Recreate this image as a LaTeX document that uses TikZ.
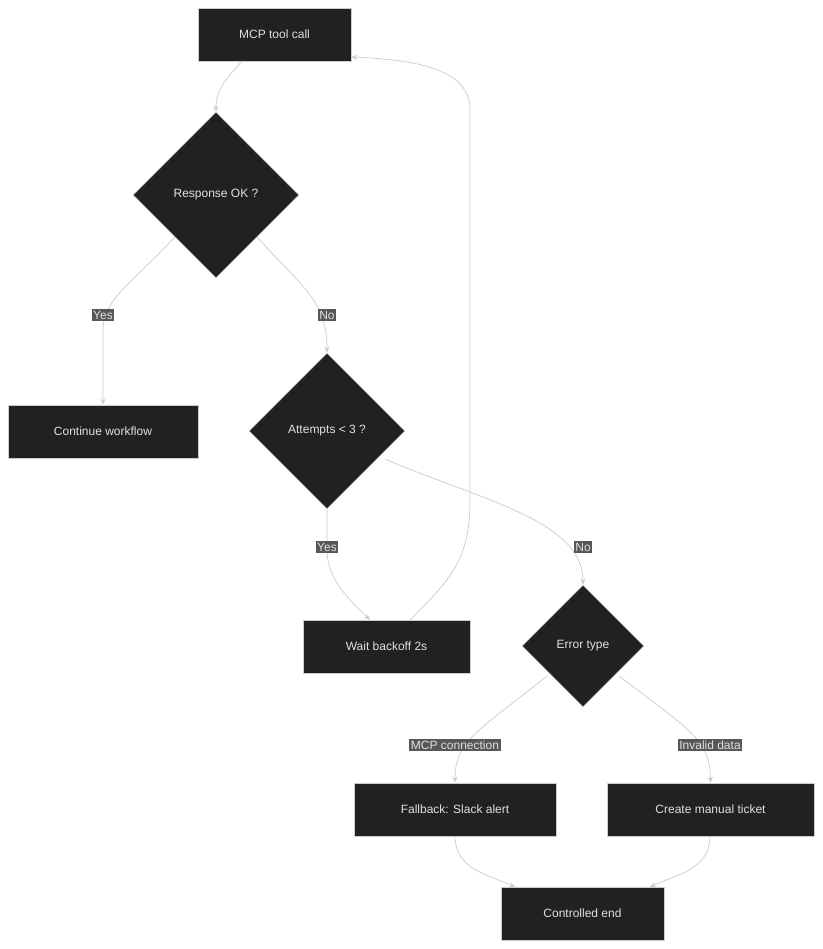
\documentclass[tikz,border=0pt]{standalone}
\usepackage{fontspec}
\setmainfont{Liberation Sans}
\usetikzlibrary{shapes.geometric,arrows.meta}
\definecolor{nodefill}{HTML}{202221}
\definecolor{nodetext}{HTML}{E0E0E0}
\definecolor{edgecol}{HTML}{CCCCCC}
\definecolor{lblfill}{HTML}{575757}
\begin{document}
\begin{tikzpicture}[x=1pt,y=-1pt,
  every node/.style={font=\fontsize{12}{14}\selectfont, text=nodetext},
  box/.style={draw=edgecol, fill=nodefill, minimum height=53pt, inner sep=0pt, line width=0.6pt},
  dia/.style={diamond, draw=edgecol, fill=nodefill, inner sep=0pt, aspect=1, line width=0.6pt},
  lbl/.style={fill=lblfill, inner sep=1.5pt, text=nodetext},
  edge/.style={draw=edgecol, line width=0.7pt, -{Stealth[length=6pt,width=5pt]}}]
\useasboundingbox (0,0) rectangle (822,949);
\fill[white] (0,0) rectangle (822,949);
\node[box, minimum width=153pt] (mcp) at (274.5,34.5) {MCP tool call};
\node[dia, minimum size=166pt] (resp) at (216,195) {Response OK ?};
\node[box, minimum width=190pt] (cont) at (103,431.5) {Continue workflow};
\node[dia, minimum size=156pt] (att) at (327,431) {Attempts < 3 ?};
\node[box, minimum width=167pt] (wait) at (386.5,646.5) {Wait backoff 2s};
\node[dia, minimum size=122pt] (err) at (583,646) {Error type};
\node[box, minimum width=202pt] (fall) at (455,809.5) {Fallback: Slack alert};
\node[box, minimum width=207pt] (tick) at (710.5,809.5) {Create manual ticket};
\node[box, minimum width=163pt] (end) at (582.5,913.5) {Controlled end};
\coordinate (c1) at (242,61);
\coordinate (c2) at (175,237);
\coordinate (c3) at (257,237);
\coordinate (c4) at (385,459);
\coordinate (c5) at (410,620);
\coordinate (c6) at (547,676);
\coordinate (c7) at (619,676);
\coordinate (c8) at (455,836);
\coordinate (c9) at (710,836);
\draw[edge] (c1) .. controls (225,80) and (216,90) .. (resp.north);
\draw[edge] (c2) .. controls (130,285) and (103,300) .. (103,330) -- (cont.north);
\draw[edge] (c3) .. controls (300,285) and (327,300) .. (att.north);
\draw[edge] (att.south) -- (327,550) .. controls (327,580) and (350,600) .. (370,620);
\draw[edge] (c4) .. controls (480,500) and (583,520) .. (err.north);
\draw[edge] (c5) .. controls (450,580) and (470,560) .. (470,500) -- (470,110) .. controls (470,70) and (420,60) .. (351,57);
\draw[edge] (c6) .. controls (480,730) and (455,740) .. (fall.north);
\draw[edge] (c7) .. controls (690,730) and (710,740) .. (tick.north);
\draw[edge] (c8) .. controls (455,870) and (490,875) .. (515,887);
\draw[edge] (c9) .. controls (710,870) and (675,875) .. (650,887);
\node[lbl] (l1) at (103,315) {Yes};
\node[lbl] (l2) at (327,315) {No};
\node[lbl] (l3) at (327,547) {Yes};
\node[lbl] (l4) at (583,547) {No};
\node[lbl] (l5) at (455,745) {MCP connection};
\node[lbl] (l6) at (710,745) {Invalid data};
\end{tikzpicture}
\end{document}
